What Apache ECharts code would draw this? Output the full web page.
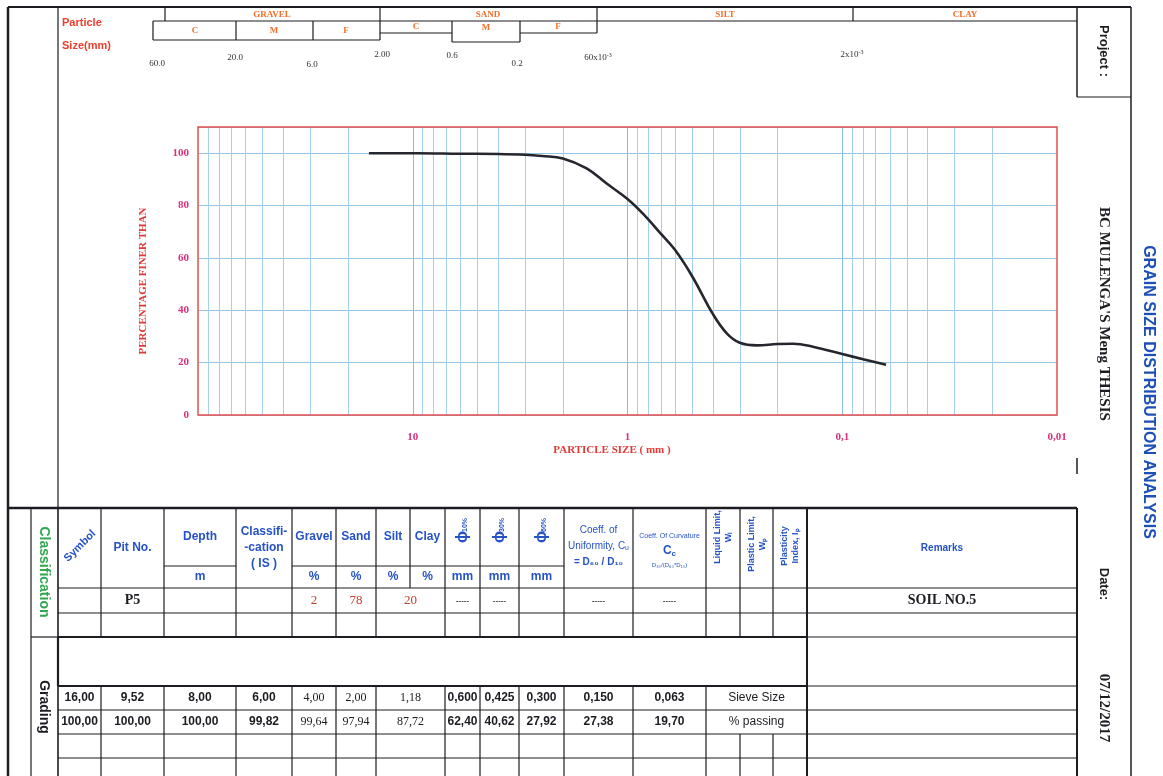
<!DOCTYPE html>
<html><head><meta charset="utf-8">
<script src="https://cdn.jsdelivr.net/npm/echarts@6/dist/echarts.min.js"></script>
<style>html,body{margin:0;padding:0;background:#fff}#c{width:1163px;height:776px}</style>
</head><body><div id="c"></div>
<script>
// ---------- DATA ----------
// grain size curve as drawn (particle size mm, % finer)
const curveSize = [16, 9.52, 6, 4, 3, 2.5, 2, 1.55, 1.25, 1.0, 0.85, 0.7, 0.6, 0.5, 0.4, 0.345, 0.3, 0.25, 0.2, 0.169, 0.137, 0.1, 0.08, 0.0625];
const curvePct  = [100, 100, 99.8, 99.7, 99.4, 98.9, 98.0, 94.2, 88.4, 82.5, 77, 69.3, 63, 53, 38.5, 31.2, 27.6, 26.6, 27.1, 27.2, 26.1, 23.3, 21.3, 19.2];
// log grid lines (mm)
const gridMinor = [90,80,70,60,50,40,30,20, 9,8,7,6,5,4,3,2, 0.9,0.8,0.7,0.6,0.5,0.4,0.3,0.2, 0.09,0.08,0.07,0.06,0.05,0.04,0.03,0.02];
const gridMajor = [10, 1, 0.1];
const xTickValues = [100, 10, 1, 0.1, 0.01];
const xTickLabels = ['', '10', '1', '0,1', '0,01'];
const yTicks = [0, 20, 40, 60, 80, 100];
// header fractions
const fractions = ['GRAVEL', 'SAND', 'SILT', 'CLAY'];
const subFractions = ['C', 'M', 'F'];
const sizeMarks = ['60.0', '20.0', '6.0', '2.00', '0.6', '0.2', '60x10{s|-3}', '2x10{s|-3}'];
// sieve table
const sieveSize = [16, 9.52, 8, 6, 4, 2, 1.18, 0.6, 0.425, 0.3, 0.15, 0.063];
const passing   = [100, 100, 100, 99.82, 99.64, 97.94, 87.72, 62.40, 40.62, 27.92, 27.38, 19.70];
// classification row
const pitNo = 'P5';
const gravelPct = 2, sandPct = 78, siltClayPct = 20;
const remarks = 'SOIL NO.5';
const project = "BC MULENGA'S Meng THESIS";
const title = 'GRAIN SIZE DISTRIBUTION ANALYSIS';
const dateText = '07/12/2017';

// ---------- STYLE ----------
const SANS = '"Liberation Sans", Arial, Helvetica, sans-serif';
const SERIF = '"Liberation Serif", "Times New Roman", serif';
const BLUE = '#2552c4', GREEN = '#2fa84f', ORANGE = '#f0702a', RED = '#ee3d2c', DRED = '#c2412d', INK = '#1c1c22', MAG = '#d8307c';
const GRID_C = '#a3d0ea';

const G = [];
function L(x1, y1, x2, y2, w) {
  G.push({type: 'line', silent: true, z: 10, shape: {x1, y1, x2, y2}, style: {stroke: INK, lineWidth: w || 1.2}});
}
function T(x, y, text, font, fill, extra) {
  const el = {type: 'text', silent: true, z: 11, x, y,
    style: {text: String(text), font, fill: fill || INK, textAlign: 'center', textVerticalAlign: 'middle', align: 'center', verticalAlign: 'middle'}};
  if (extra) {
    if (extra.rotation !== undefined) el.rotation = extra.rotation;
    if (extra.lineHeight) el.style.lineHeight = extra.lineHeight;
    if (extra.rich) el.style.rich = extra.rich;
    if (extra.align) { el.style.textAlign = extra.align; el.style.align = extra.align; }
  }
  G.push(el);
}
const R90 = Math.PI / 2;

// ---------- PAGE FRAME ----------
L(8, 7, 1131, 7, 2);
L(8, 7, 8, 776, 2.5);
L(58, 7, 58, 508, 1.2);
L(1077, 7, 1077, 97, 1.5);
L(1077, 458, 1077, 474, 1.5);
L(1077, 508, 1077, 776, 2);
L(1131, 7, 1131, 776, 1.5);
L(1077, 97, 1131, 97, 1.2);

// ---------- PARTICLE SIZE HEADER ----------
T(62, 23, 'Particle', 'bold 11px ' + SANS, RED, {align: 'left'});
T(62, 46, 'Size(mm)', 'bold 11px ' + SANS, RED, {align: 'left'});
[165, 380, 597, 853].forEach(x => L(x, 7, x, 21, 1.2));
L(153, 21, 1077, 21, 1.2);
const fracCx = [272, 488, 725, 965];
fractions.forEach((f, i) => T(fracCx[i], 14.5, f, 'bold 9px ' + SERIF, ORANGE));
L(153, 21, 153, 40, 1.2); L(236, 21, 236, 40, 1.2); L(313, 21, 313, 40, 1.2); L(380, 21, 380, 40, 1.2);
L(153, 40, 380, 40, 1.2);
const gSubCx = [195, 274, 346];
subFractions.forEach((s, i) => T(gSubCx[i], 30.5, s, 'bold 9px ' + SERIF, ORANGE));
L(452, 21, 452, 42, 1.2); L(520, 21, 520, 42, 1.2); L(597, 21, 597, 33, 1.2);
L(380, 33, 452, 33, 1.2); L(452, 42, 520, 42, 1.2); L(520, 33, 597, 33, 1.2);
const sSubCx = [416, 486, 558], sSubCy = [27, 28, 27];
subFractions.forEach((s, i) => T(sSubCx[i], sSubCy[i], s, 'bold 9px ' + SERIF, ORANGE));
const markPos = [[157, 64], [235, 58], [312, 65], [382, 55], [452, 56], [517, 64], [598, 58], [852, 55]];
sizeMarks.forEach((m, i) => T(markPos[i][0], markPos[i][1], m, '9px ' + SERIF, '#333',
  {rich: {s: {fontSize: 6, fontFamily: SERIF, fill: '#333', verticalAlign: 'top', padding: [0, 0, 6, 0]}}}));

// ---------- AXIS NAMES / PLOT BORDER ----------
T(143, 281, 'PERCENTAGE FINER THAN', 'bold 11px ' + SERIF, '#e23a36', {rotation: R90});
T(612, 450, 'PARTICLE SIZE ( mm )', 'bold 11px ' + SERIF, '#e23a36');
G.push({type: 'rect', silent: true, z: 20, shape: {x: 198, y: 127, width: 859, height: 288},
  style: {fill: 'none', stroke: '#e4504c', lineWidth: 1.5}});

// ---------- TABLE ----------
L(8, 508, 1077, 508, 2.5);
L(31, 508, 31, 776, 1.2);
L(58, 508, 58, 776, 1.6);
L(807, 508, 807, 776, 2);
const headCols = [101, 164, 236, 292, 336, 376, 410, 445, 480, 519, 564, 633, 706, 740, 773];
headCols.forEach(x => L(x, 508, x, 588, 1.2));
L(164, 566, 236, 566, 1.2); L(292, 566, 564, 566, 1.2);
L(58, 588, 1077, 588, 1.2);
L(58, 613, 1077, 613, 1.2);
L(31, 637, 58, 637, 1.2); L(58, 637, 807, 637, 2.2); L(807, 637, 1077, 637, 1.2);
const rowCols = [101, 164, 236, 292, 336, 376, 445, 480, 519, 564, 633, 706, 740, 773];
rowCols.forEach(x => L(x, 588, x, 637, 1.2));
L(58, 637, 58, 686, 2.2);
L(58, 686, 807, 686, 2.2); L(807, 686, 1077, 686, 1.2);
const sieveCols = [101, 164, 236, 292, 336, 376, 445, 480, 519, 564, 633, 706];
sieveCols.forEach(x => L(x, 686, x, 734, 1.2));
[710, 734, 758].forEach(y => L(58, y, 1077, y, 1.2));
rowCols.forEach(x => L(x, 734, x, 776, 1.2));

T(44, 572, 'Classification', 'bold 14px ' + SANS, GREEN, {rotation: -R90});
T(44, 707, 'Grading', 'bold 14px ' + SANS, INK, {rotation: -R90});

const HB = 'bold 12px ' + SANS;
T(80, 546, 'Symbol', 'bold 11px ' + SANS, BLUE, {rotation: Math.PI / 4});
T(132.5, 548, 'Pit No.', HB, BLUE);
T(200, 537, 'Depth', HB, BLUE); T(200, 577, 'm', HB, BLUE);
T(264, 548, 'Classifi-\n-cation\n( IS )', HB, BLUE, {lineHeight: 16});
const pctHead = ['Gravel', 'Sand', 'Silt', 'Clay'], pctCx = [314, 356, 393, 427.5];
pctHead.forEach((h, i) => { T(pctCx[i], 537, h, HB, BLUE); T(pctCx[i], 577, '%', HB, BLUE); });
const phiHead = ['10%', '30%', '60%'], phiCx = [462.5, 499.5, 541.5];
phiHead.forEach((h, i) => {
  G.push({type: 'group', x: phiCx[i], y: 532, rotation: R90, z: 11, silent: true, children: [
    {type: 'text', x: -5, y: 0, style: {text: 'ϕ', font: 'bold 16px ' + SANS, fill: BLUE, textAlign: 'center', textVerticalAlign: 'middle', align: 'center', verticalAlign: 'middle'}},
    {type: 'text', x: 7, y: 3, style: {text: h, font: 'bold 7px ' + SANS, fill: BLUE, textAlign: 'center', textVerticalAlign: 'middle', align: 'center', verticalAlign: 'middle'}}
  ]});
  T(phiCx[i], 577, 'mm', HB, BLUE);
});
T(598.5, 530, 'Coeff. of', '10px ' + SANS, BLUE);
T(598.5, 546, 'Uniformity, Cᵤ', '10px ' + SANS, BLUE);
T(598.5, 562, '= D₆₀ / D₁₀', 'bold 10px ' + SANS, BLUE);
T(669.5, 536, 'Coeff. Of Curvature', '7px ' + SANS, BLUE);
T(669.5, 551, 'C{s|c}', 'bold 12px ' + SANS, BLUE, {rich: {s: {fontSize: 8, fontWeight: 'bold', fontFamily: SANS, fill: BLUE, verticalAlign: 'bottom', padding: [6, 0, 0, 0]}}});
T(669.5, 565, 'D₃₀/(D₆₀*D₁₀)', '6px ' + SANS, BLUE);
T(723, 537, 'Liquid Limit,\nWₗ', 'bold 9px ' + SANS, BLUE, {rotation: R90, lineHeight: 11});
T(757, 544, 'Plastic Limit,\nWₚ', 'bold 9px ' + SANS, BLUE, {rotation: R90, lineHeight: 11});
T(790, 546, 'Plasticity\nIndex, Iₚ', 'bold 9px ' + SANS, BLUE, {rotation: R90, lineHeight: 11});
T(942, 548, 'Remarks', 'bold 10px ' + SANS, BLUE);

const rowY = 600.5;
T(132.5, rowY, pitNo, 'bold 14px ' + SERIF, INK);
T(314, rowY, gravelPct, '13px ' + SERIF, DRED);
T(356, rowY, sandPct, '13px ' + SERIF, DRED);
T(410.5, rowY, siltClayPct, '13px ' + SERIF, DRED);
[462.5, 499.5, 598.5, 669.5].forEach(x => T(x, rowY, '-----', 'bold 8px ' + SANS, '#444'));
T(942, rowY, remarks, 'bold 14px ' + SERIF, INK);

const colCx = [79.5, 132.5, 200, 264, 314, 356, 410.5, 462.5, 499.5, 541.5, 598.5, 669.5];
const serifCols = [4, 5, 6];
const fmtSize = v => (v >= 1 ? v.toFixed(2) : v.toFixed(3)).replace('.', ',');
const fmtPct = v => v.toFixed(2).replace('.', ',');
sieveSize.forEach((v, i) => {
  const f = serifCols.includes(i) ? '12px ' + SERIF : 'bold 12px ' + SANS;
  T(colCx[i], 698, fmtSize(v), f, INK);
  T(colCx[i], 722, fmtPct(passing[i]), f, INK);
});
T(756.5, 698, 'Sieve Size', '12px ' + SANS, INK);
T(756.5, 722, '% passing', '12px ' + SANS, INK);

T(1104, 51, 'Project :', 'bold 13px ' + SANS, INK, {rotation: -R90});
T(1104, 314, project, 'bold 15px ' + SERIF, INK, {rotation: -R90});
T(1148, 392, title, 'bold 16px ' + SANS, '#1d4fb8', {rotation: -R90});
T(1104, 584, 'Date:', 'bold 13px ' + SANS, INK, {rotation: -R90});
T(1104, 708, dateText, 'bold 15px ' + SERIF, INK, {rotation: -R90});

// ---------- CHART ----------
const chart = echarts.init(document.getElementById('c'), null, {renderer: 'canvas'});
const labelFor = v => {
  const e = Math.round(Math.log10(v));
  const idx = xTickValues.findIndex(t => Math.round(Math.log10(t)) === e);
  return idx >= 0 ? xTickLabels[idx] : '';
};
chart.setOption({
  animation: false,
  backgroundColor: '#ffffff',
  grid: {left: 198, top: 127, width: 859, height: 288, outerBoundsMode: 'none'},
  xAxis: {
    type: 'log', logBase: 10, min: 0.01, max: 100, inverse: true,
    axisLine: {show: false}, axisTick: {show: false}, splitLine: {show: false},
    axisLabel: {formatter: labelFor, color: MAG, fontFamily: SERIF, fontWeight: 'bold', fontSize: 11, margin: 17,
      showMinLabel: true, showMaxLabel: true}
  },
  yAxis: {
    type: 'value', min: 0, max: 110, interval: 20,
    axisLine: {show: false}, axisTick: {show: false},
    axisLabel: {formatter: v => (yTicks.includes(v) ? String(v) : ''), color: MAG, fontFamily: SERIF, fontWeight: 'bold', fontSize: 11, margin: 9},
    splitLine: {lineStyle: {color: '#95c6e6', width: 1}}
  },
  series: [
    {
      type: 'line', data: [], silent: true, z: 1,
      markLine: {
        silent: true, symbol: ['none', 'none'], label: {show: false}, animation: false,
        lineStyle: {color: GRID_C, width: 1, type: 'solid'},
        data: gridMinor.map(v => ({xAxis: v})).concat(gridMajor.map(v => ({xAxis: v, lineStyle: {color: '#86bde2', width: 1, type: 'solid'}})))
      }
    },
    {
      type: 'line', z: 5, silent: true,
      data: curveSize.map((s, i) => [s, curvePct[i]]),
      smooth: 0.4, symbol: 'none',
      lineStyle: {color: '#26262e', width: 2.6}
    }
  ],
  graphic: {elements: G}
});
</script>
</body></html>
